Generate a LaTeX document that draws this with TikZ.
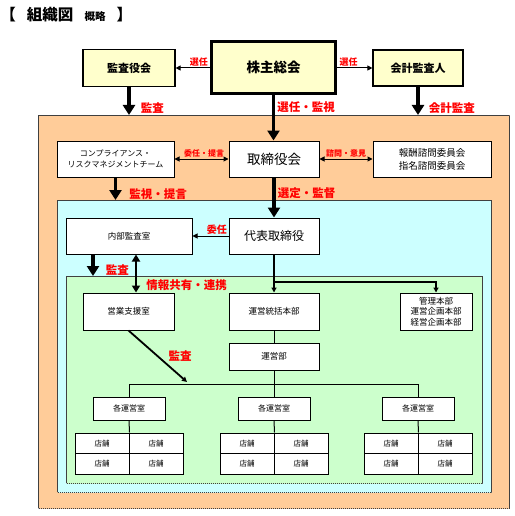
\documentclass[tikz,border=0pt]{standalone}
\usepackage{fontspec}
\setmainfont{Noto Sans CJK JP}
\usetikzlibrary{arrows.meta, positioning}
\definecolor{orangebg}{RGB}{255, 204, 153}
\definecolor{cyanbg}{RGB}{204, 255, 255}
\definecolor{greenbg}{RGB}{204, 255, 204}
\definecolor{yellowbox}{RGB}{255, 255, 204}
\definecolor{labelred}{RGB}{255, 0, 0}
\newcommand{\setfs}[2]{\fontsize{#1}{#2}\selectfont}

\begin{document}
\begin{tikzpicture}[
                x = 1pt, y = -1pt, % pixel grid of the chart
                > = {Triangle[length=5pt, width=5pt]}, % arrow head style
                line width = 1pt,
                box/.style = {draw, fill=white, line width=1pt, align=center,
                    inner sep=1pt, font=\setfs{8.5}{10.5}},
                topbox/.style = {box, fill=yellowbox, line width=1.2pt, font=\setfs{11}{12}\bfseries},
                area/.style = {draw=black!75, dash pattern=on 1.2pt off 0.8pt,
                    line width=1pt, inner sep=0pt, anchor=north west},
                thickarrow/.style = {-{Triangle[length=10pt, width=12pt]}, line width=3.5pt},
                lbl/.style = {text=labelred, font=\setfs{11.5}{12}\bfseries, inner sep=1pt},
                slbl/.style = {lbl, font=\setfs{9}{10}\bfseries},
                room/.style = {box, minimum width=72pt, minimum height=23pt, font=\setfs{8}{9}},
                shop/.style = {box, minimum width=54pt, minimum height=20.5pt, font=\setfs{7.5}{8}}
                ]
                \useasboundingbox (0,0) rectangle (514,516);

                \node[anchor=west, inner sep=0pt, font=\setfs{15.5}{16}\bfseries] (title) at (0,15)
                {【\hspace{11pt}組織図\hspace{11pt}{\setfs{10.5}{11}概略}\hspace{11pt}】};

                % nested areas
                \node[area, fill=orangebg, minimum width=471pt, minimum height=393pt] (orange) at (38,115) {};
                \node[area, fill=cyanbg, minimum width=434pt, minimum height=292pt] (cyan) at (57,200) {};
                \node[area, fill=greenbg, minimum width=416pt, minimum height=207pt] (green) at (66,276) {};

                % top row
                \node[topbox, minimum width=92pt, minimum height=37pt] (kansa) at (129,68) {監査役会};
                \node[topbox, line width=2.5pt, minimum width=124pt, minimum height=52pt,
                    font=\setfs{13.5}{14}\bfseries] (soukai) at (273.5,67.5) {株主総会};
                \node[topbox, minimum width=90pt, minimum height=36pt] (kaikei) at (418,68) {会計監査人};

                \path[->] (soukai.west |- kansa.east) edge
                node[slbl, above, pos=0.33] {選任} (kansa.east);
                \path[->] (soukai.east |- kaikei.west) edge
                node[slbl, above, pos=0.33] {選任} (kaikei.west);

                \draw[thickarrow] (kansa.south) -- (kansa.south |- orange.north)
                node[lbl, right=9pt, pos=0.76] {監査};
                \draw[thickarrow] (kaikei.south) -- (kaikei.south |- orange.north)
                node[lbl, right=8pt, pos=0.76] {会計監査};

                % board level
                \node[box, minimum width=117pt, minimum height=36pt, font=\setfs{8}{10.5}] (comp)
                at (115.5,159) {コンプライアンス・\\リスクマネジメントチーム};
                \node[box, minimum width=90pt, minimum height=36pt, font=\setfs{13.5}{14}] (torishimari)
                at (274,159) {取締役会};
                \node[box, minimum width=118pt, minimum height=36pt, font=\setfs{9.5}{13}] (houshu)
                at (432,159) {報酬諮問委員会\\指名諮問委員会};

                \draw[thickarrow] (soukai.south) -- (soukai.south |- torishimari.north)
                node[lbl, right=1pt, pos=0.28] {選任・監視};

                \path[<->] (comp.east) edge
                node[slbl, above, pos=0.55, font=\setfs{8}{9}\bfseries] {委任・提言} (torishimari.west);
                \path[<->] (torishimari.east) edge
                node[slbl, above, font=\setfs{8}{9}\bfseries] {諮問・意見} (houshu.west);

                \draw[thickarrow] (comp.south) -- (comp.south |- cyan.north)
                node[lbl, right=11pt, pos=0.74] {監視・提言};

                % executive level
                \node[box, minimum width=126pt, minimum height=36pt] (naibu) at (129,236) {内部監査室};
                \node[box, minimum width=90pt, minimum height=36pt, font=\setfs{12}{13}] (daihyo)
                at (274,236) {代表取締役};

                \draw[thickarrow] (torishimari.south) -- (daihyo.north)
                node[lbl, right=1pt, pos=0.39] {選定・監督};
                \path[->] (daihyo.west) edge
                node[slbl, above, pos=0.32, font=\setfs{10}{11}\bfseries] {委任} (naibu.east);

                % operations
                \node[box, minimum width=91pt, minimum height=37pt] (eigyo) at (128.5,311.5) {営業支援室};
                \node[box, minimum width=90pt, minimum height=37pt] (tokatsu) at (274,311.5) {運営統括本部};
                \node[box, minimum width=72pt, minimum height=37pt] (kanri) at (436,311.5)
                {管理本部\\運営企画本部\\経営企画本部};
                \node[box, minimum width=90pt, minimum height=27pt] (uneibu) at (274,356.5) {運営部};

                \coordinate (auditdown) at ([xshift=-36pt]naibu.south);
                \coordinate (share) at ([xshift=7pt]naibu.south);
                \draw[thickarrow] (auditdown) -- (auditdown |- green.north)
                node[lbl, right=10pt, pos=0.73] {監査};
                \draw[{Triangle[length=7pt, width=8pt]}-{Triangle[length=7pt, width=8pt]}, line width=2.5pt]
                (share) -- (share |- eigyo.north)
                node[lbl, right=8pt, pos=0.8] {情報共有・連携};

                \coordinate (branch) at (274,282);
                \draw[->, line width=1.6pt] (daihyo.south) -- (tokatsu.north);
                \draw[->, line width=1.6pt] (branch) -| (kanri.north);

                \draw (tokatsu.south) -- (uneibu.north);
                \coordinate (bus) at (274,384);
                \draw (uneibu.south) -- (bus);

                % rooms and shops
                \node[room] (room1) at (129,408.5) {各運営室};
                \node[room] (room2) at (274,408.5) {各運営室};
                \node[room] (room3) at (418,408.5) {各運営室};
                \draw (room1.north |- bus) -- (room3.north |- bus);

                \foreach \r/\x in {1/129, 2/274, 3/418} {
                    \draw (room\r.north |- bus) -- (room\r.north);
                    \node[shop] (s\r a) at (\x-27,443.25) {店舗};
                    \node[shop] (s\r b) at (\x+27,443.25) {店舗};
                    \node[shop] (s\r c) at (\x-27,463.75) {店舗};
                    \node[shop] (s\r d) at (\x+27,463.75) {店舗};
                    \draw (room\r.south) -- (s\r a.north east);
                }

                \coordinate (audithit) at (187,382);
                \draw[->, line width=1.8pt] (eigyo.south) --
                node[lbl, right=9pt] {監査} (audithit);
            \end{tikzpicture}
\end{document}
